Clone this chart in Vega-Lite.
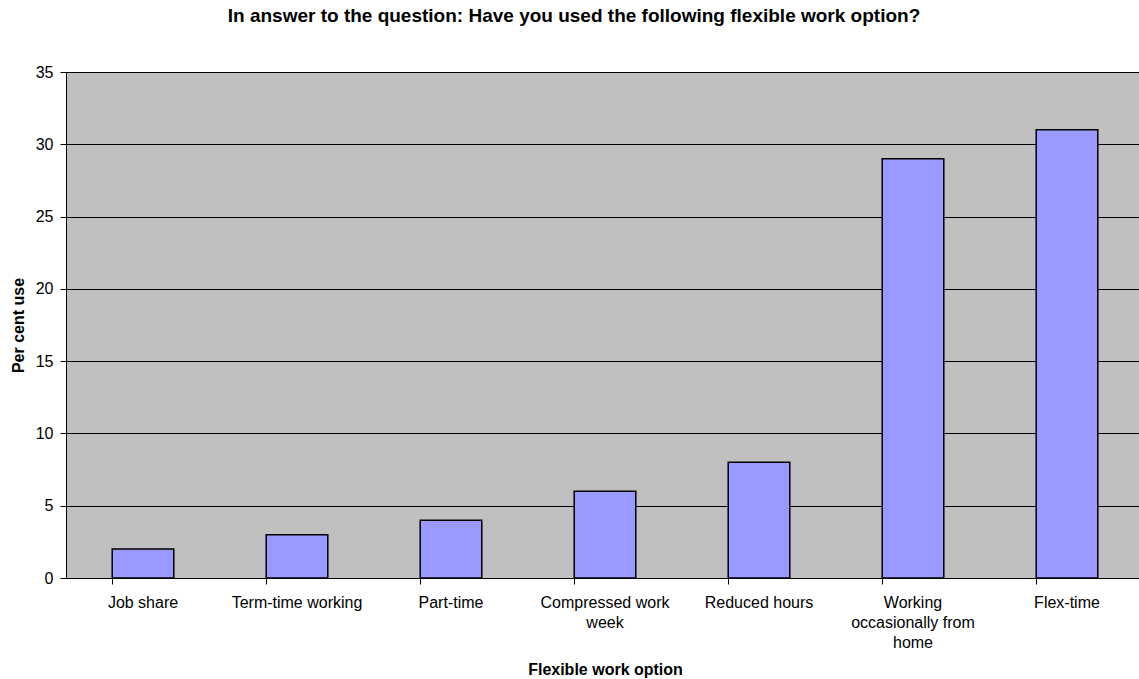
{
  "$schema": "https://vega.github.io/schema/vega-lite/v6.json",
  "autosize": {"type": "none"},
  "padding": {"left": 66, "top": 72, "right": 0, "bottom": 101},
  "width": 1078,
  "height": 506,
  "background": "white",
  "title": {
    "text": "In answer to the question: Have you used the following flexible work option?",
    "font": "Liberation Sans",
    "fontSize": 19,
    "fontWeight": "bold",
    "color": "black",
    "anchor": "middle",
    "dx": -31,
    "offset": 38
  },
  "config": {
    "view": {"fill": "#C0C0C0", "stroke": null},
    "axis": {"labelFont": "Liberation Sans", "titleFont": "Liberation Sans", "labelColor": "black", "titleColor": "black", "labelFontSize": 16, "titleFontSize": 16, "titleFontWeight": "bold", "domainColor": "black", "tickColor": "black"}
  },
  "data": {
    "values": [
      {"option": "Job share", "pct": 2},
      {"option": "Term-time working", "pct": 3},
      {"option": "Part-time", "pct": 4},
      {"option": "Compressed work week", "pct": 6},
      {"option": "Reduced hours", "pct": 8},
      {"option": "Working occasionally from home", "pct": 29},
      {"option": "Flex-time", "pct": 31}
    ]
  },
  "mark": {"type": "bar", "fill": "#9999FF", "stroke": "black", "strokeWidth": 1.5},
  "encoding": {
    "x": {
      "field": "option",
      "type": "nominal",
      "sort": null,
      "scale": {"paddingInner": 0.6, "paddingOuter": 0.3},
      "axis": {
        "title": "Flexible work option",
        "labelAngle": 0,
        "bandPosition": 0,
        "tickSize": 6,
        "labelPadding": 10,
        "labelLineHeight": 20,
        "labelBaseline": "top",
        "labelExpr": "datum.value == 'Compressed work week' ? ['Compressed work', 'week'] : datum.value == 'Working occasionally from home' ? ['Working', 'occasionally from', 'home'] : datum.value",
        "titleY": 91,
        "titleBaseline": "middle",
        "grid": false
      }
    },
    "y": {
      "field": "pct",
      "type": "quantitative",
      "scale": {"domain": [0, 35]},
      "axis": {
        "title": "Per cent use",
        "values": [0, 5, 10, 15, 20, 25, 30, 35],
        "tickSize": 6,
        "labelPadding": 7,
        "grid": true,
        "gridColor": "black",
        "gridOpacity": 1,
        "titleX": -48,
        "titleY": 253,
        "titleAngle": -90,
        "titleAlign": "center",
        "titleBaseline": "middle"
      }
    }
  }
}
